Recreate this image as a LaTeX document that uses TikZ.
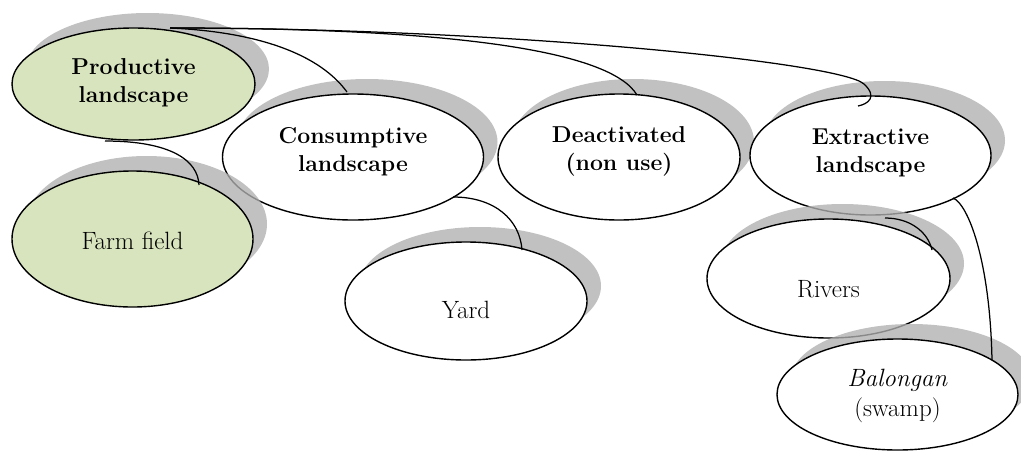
\documentclass[tikz,border=0pt]{standalone}
\usetikzlibrary{shapes.geometric,shadows,calc}
\definecolor{leaf}{HTML}{D7E4BD}
\definecolor{shade}{HTML}{B0B0B0}
\tikzset{
  bubble/.style={ellipse, draw=black, line width=1.4pt, fill=white, inner sep=0pt,
    general shadow={shadow xshift=14pt, shadow yshift=15pt, fill=shade, fill opacity=0.78}},
  leafy/.style={fill=leaf},
  hd/.style={font=\fontsize{23}{28}\bfseries\selectfont, align=center, inner sep=0pt},
  tx/.style={font=\fontsize{25}{30}\selectfont, align=center, inner sep=0pt},
  link/.style={draw=black, line width=1.25pt}
}
\begin{document}
\begin{tikzpicture}[x=1pt,y=-1pt]
\useasboundingbox (0,0) rectangle (1021,451);
% top row
\node[bubble, leafy, minimum width=243pt, minimum height=112pt] (prod) at (133.5,84) {};
\node[bubble, minimum width=261pt, minimum height=126pt] (cons) at (353,157) {};
\node[bubble, minimum width=242pt, minimum height=126pt] (deac) at (619,157) {};
\node[bubble, minimum width=241pt, minimum height=119pt] (extr) at (870.5,155.5) {};
% lower nodes
\node[bubble, leafy, minimum width=241pt, minimum height=136pt] (farm) at (132.5,239) {};
\node[bubble, minimum width=242pt, minimum height=118pt] (yard) at (466,301) {};
\node[bubble, minimum width=243pt, minimum height=119pt] (riv) at (828.5,278.5) {};
\node[bubble, minimum width=241pt, minimum height=111pt] (bal) at (897.5,394.5) {};
% labels
\node[hd] (prodT) at (133.5,83.2) {Productive\\landscape};
\node[hd] (consT) at (353,151.3) {Consumptive\\landscape};
\node[hd] (deacT) at (619,151) {Deactivated\\(non use)};
\node[hd] (extrT) at (870.5,153.3) {Extractive\\landscape};
\node[tx] (farmT) at (132.5,241.3) {Farm field};
\node[tx] (yardT) at (466,310.3) {Yard};
\node[tx] (rivT) at (828.5,289.4) {Rivers};
\node[tx] (balT) at (897.5,396.1) {\textit{Balongan}\\(swamp)};
% connectors
\draw[link] ($(prod)+(36.5,-56)$) .. controls (260,32) and (320,55) .. ($(cons)+(-6,-65)$);
\draw[link] ($(prod)+(36.5,-56)$) .. controls (450,28) and (610,50) .. ($(deac)+(18,-62)$);
\draw[link] ($(prod)+(36.5,-56)$) .. controls (500,28) and (840,62) .. (864,84)
  .. controls (878,97) and (868,104) .. ($(extr)+(-12.5,-49.5)$);
\draw[link] ($(prod)+(-28.5,57)$) .. controls (170,141) and (198,160) .. ($(farm)+(66.5,-54)$);
\draw[link] ($(cons)+(100,40)$) .. controls (495,197) and (520,220) .. ($(yard)+(56,-51)$);
\draw[link] ($(extr)+(14.5,62.5)$) .. controls (910,218) and (928,232) .. ($(riv)+(103.5,-28.5)$);
\draw[link] ($(extr)+(82.5,42.5)$) .. controls (968,204) and (990,260) .. ($(bal)+(94.5,-34.5)$);
\end{tikzpicture}
\end{document}
